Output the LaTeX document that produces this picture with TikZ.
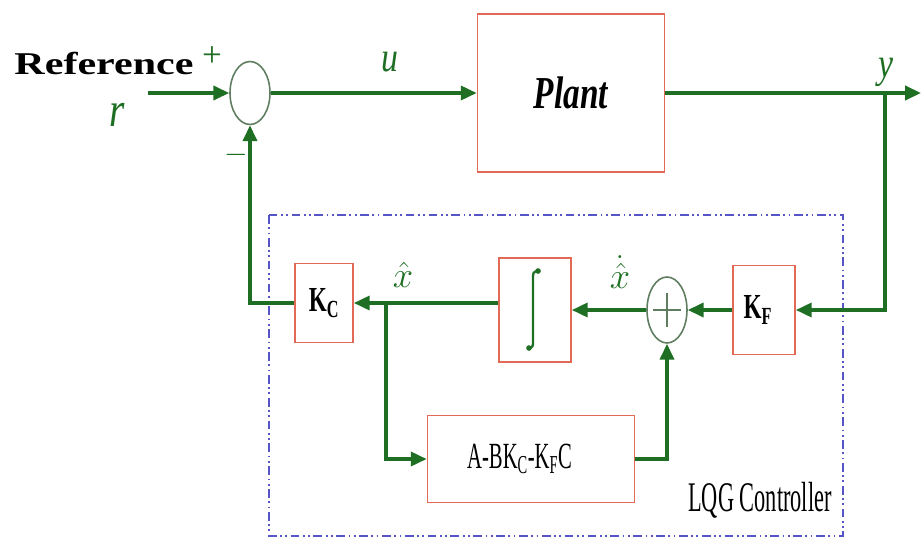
\documentclass[tikz,border=0pt]{standalone}
\usepackage{fontspec}
\setmainfont{Liberation Serif}
\usetikzlibrary{arrows.meta,shapes.geometric}
\definecolor{sigGreen}{RGB}{30,110,35}
\definecolor{boxRed}{RGB}{225,105,85}
\definecolor{sumGray}{RGB}{95,125,95}
\definecolor{lqgBlue}{RGB}{85,85,200}
\newcommand{\fs}[1]{\fontsize{#1}{#1}\selectfont}

\begin{document}
\begin{tikzpicture}[x=0.02cm, y=-0.02cm,
  blk/.style={draw=boxRed, line width=1pt, inner sep=0pt},
  summ/.style={draw=sumGray, ellipse, line width=0.9pt, minimum width=0.8cm, minimum height=1.26cm, inner sep=0pt},
  sig/.style={draw=sigGreen, line width=1.9pt, -{Triangle[length=9pt,width=8pt]}},
  lbl/.style={text=sigGreen, inner sep=0pt}]
\useasboundingbox (0,0) rectangle (921,541);
% LQG frame
\draw[lqgBlue, line width=1.2pt, dash pattern=on 5pt off 2pt on 1pt off 2pt on 1pt off 2pt] (269,215) rectangle (843,536);

\node[summ] (sum) at (250,93) {};
\node[blk, minimum width=3.74cm, minimum height=3.16cm] (plant) at (571,93) {\raisebox{-3pt}{\fs{26}\scalebox{0.73}[1]{\bfseries\itshape Plant}}};
\node[blk, minimum width=1.16cm, minimum height=1.58cm] (kc) at (324,303) {\fs{20}\scalebox{0.66}[1]{\bfseries K\textsubscript{C}}};
\node[blk, minimum width=1.44cm, minimum height=2.08cm] (integ) at (535,310) {};
\node[summ, minimum height=1.32cm] (plus) at (667,310) {};
\node[blk, minimum width=1.24cm, minimum height=1.78cm] (kf) at (764,310) {\hspace*{-7pt}\fs{20}\scalebox{0.66}[1]{\bfseries K\textsubscript{F}}};
\node[blk, minimum width=4.14cm, minimum height=1.74cm] (abk) at (531,459) {\hspace*{-13pt}\fs{21}\scalebox{0.56}[1]{A-BK\textsubscript{C}-K\textsubscript{F}C}};

\coordinate (in) at (148,93);
\coordinate (out) at (921,93);
\coordinate (tap) at (885,93);
\coordinate (xtap) at (386,303);

\draw[sig] (in) -- (sum);
\draw[sig] (sum.east) -- (plant.west);
\draw[sig] (plant.east) -- (out);
\draw[sig] (tap) |- (kf.east);
\draw[sig] (kf.west) -- (plus.east);
\draw[sig] (plus.west) -- (integ.east);
\draw[sig] (integ.west |- kc.east) -- (kc.east);
\draw[sig] (xtap) |- (abk.west);
\draw[sig] (abk.east) -| (plus.south);
\draw[sig] (kc.west) -| (sum.south);

\draw[sumGray, line width=0.9pt] (plus.center) ++(-14,0) -- ++(28,0) (plus.center) ++(0,-17) -- ++(0,34);
\fill[sigGreen] (538,271) circle (1.6pt) (529,348) circle (1.6pt);
\draw[sigGreen, line width=1.3pt] (538,271) .. controls (533,272) .. (533,280) -- (533,340) .. controls (533,347) .. (529,348);

\node (reflbl) at (104,63) {\fs{19}\scalebox{1.26}[0.95]{\bfseries Reference}};
\node[lbl] (rlbl) at (117,115) {\fs{28}\scalebox{0.8}[1]{\itshape r}};
\node[lbl] (ulbl) at (390,62) {\fs{24}\scalebox{0.8}[1]{\itshape u}};
\node[lbl] (ylbl) at (886,72) {\fs{24}\scalebox{0.8}[1]{\itshape y}};
\node[lbl] (plbl) at (212,57) {\fs{20}+};
\node[lbl] (mlbl) at (236,155) {\fs{17}$-$};
\node[lbl] (xh) at (403,275) {\fs{20}$\hat{x}$};
\node[lbl] (xdh) at (620,272) {\fs{20}$\dot{\hat{x}}$};
\node (lqg) at (760,500) {\fs{24}\scalebox{0.53}[1]{LQG Controller}};
\end{tikzpicture}
\end{document}
